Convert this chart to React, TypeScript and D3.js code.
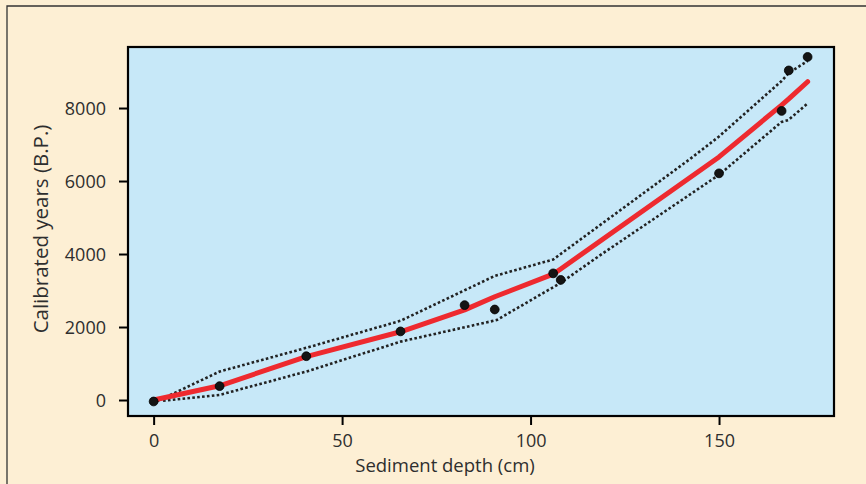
import React, { useRef, useEffect } from 'react';
import * as d3 from 'd3';

// measured dates (depth cm, calibrated years B.P.)
const sampleDepth = [0, 17.5, 40.5, 65.5, 82.5, 90.5, 106, 108, 150, 166.6, 168.5, 173.5];
const sampleYears = [-40, 380, 1200, 1880, 2600, 2480, 3470, 3290, 6210, 7920, 9030, 9400];

// age-depth model (red line)
const modelDepth = [0, 17.5, 40.5, 65.5, 82.5, 90.5, 106, 108, 150, 166.6, 168.5, 173.5];
const modelYears = [0, 390, 1190, 1870, 2470, 2830, 3450, 3590, 6660, 8080, 8250, 8720];

// confidence envelope (dotted lines)
const upperDepth = [0.8, 17.5, 40.5, 65.5, 90.5, 106, 142, 150, 166.6, 168.5, 173.5];
const upperYears = [-40, 780, 1430, 2170, 3400, 3850, 6580, 7220, 8740, 8960, 9290];
const lowerDepth = [2.5, 17.5, 40.5, 65.5, 91, 108, 118.5, 144, 150, 166.6, 168.4, 173.3];
const lowerYears = [-20, 140, 780, 1600, 2190, 3210, 3970, 5750, 6170, 7620, 7670, 8110];

const xTicks = [0, 50, 100, 150];
const yTicks = [0, 2000, 4000, 6000, 8000];

function App() {
  const svgRef = useRef(null);

  useEffect(() => {
    const svg = d3.select(svgRef.current);
    svg.selectAll('*').remove();

    const width = 866;
    const height = 484;
    const box = { left: 128, right: 834, top: 47, bottom: 416 };
    const font = '"Open Sans", "Liberation Sans", Arial, sans-serif';
    const textColor = '#2e2e2e';

    const x = d3.scaleLinear().domain([-6.8, 180.5]).range([box.left, box.right]);
    const y = d3.scaleLinear().domain([-438, 9672]).range([box.bottom, box.top]);

    // page panel
    svg.append('rect')
      .attr('width', width)
      .attr('height', height)
      .attr('fill', '#fdefd4');
    svg.append('path')
      .attr('d', `M7,${height} V6 H${width}`)
      .attr('fill', 'none')
      .attr('stroke', '#333')
      .attr('stroke-width', 1.3);

    // plot area
    svg.append('rect')
      .attr('x', box.left)
      .attr('y', box.top)
      .attr('width', box.right - box.left)
      .attr('height', box.bottom - box.top)
      .attr('fill', '#c7e8f8');

    const line = d3.line().x(d => x(d[0])).y(d => y(d[1]));

    const envelope = [
      d3.zip(upperDepth, upperYears),
      d3.zip(lowerDepth, lowerYears),
    ];
    svg.append('g')
      .selectAll('path')
      .data(envelope)
      .join('path')
      .attr('d', d => line(d))
      .attr('fill', 'none')
      .attr('stroke', '#222')
      .attr('stroke-width', 2.6)
      .attr('stroke-dasharray', '2.6 2.3');

    svg.append('path')
      .attr('d', line(d3.zip(modelDepth, modelYears)))
      .attr('fill', 'none')
      .attr('stroke', '#ee2a2f')
      .attr('stroke-width', 5)
      .attr('stroke-linejoin', 'round')
      .attr('stroke-linecap', 'round');

    svg.append('g')
      .selectAll('circle')
      .data(d3.zip(sampleDepth, sampleYears))
      .join('circle')
      .attr('cx', d => x(d[0]))
      .attr('cy', d => y(d[1]))
      .attr('r', 4.4)
      .attr('fill', '#141414')
      .attr('stroke', '#000')
      .attr('stroke-width', 0.8);

    svg.append('rect')
      .attr('x', box.left)
      .attr('y', box.top)
      .attr('width', box.right - box.left)
      .attr('height', box.bottom - box.top)
      .attr('fill', 'none')
      .attr('stroke', '#000')
      .attr('stroke-width', 2.2);

    // axes
    const xAxis = svg.append('g')
      .attr('transform', `translate(0, ${box.bottom})`)
      .call(d3.axisBottom(x).tickValues(xTicks).tickFormat(d3.format('d')).tickSize(9).tickPadding(9));
    const yAxis = svg.append('g')
      .attr('transform', `translate(${box.left}, 0)`)
      .call(d3.axisLeft(y).tickValues(yTicks).tickFormat(d3.format('d')).tickSize(9).tickPadding(13));

    [xAxis, yAxis].forEach(a => {
      a.select('.domain').remove();
      a.selectAll('line').attr('stroke', '#000').attr('stroke-width', 2);
      a.selectAll('text')
        .attr('fill', textColor)
        .attr('font-family', font)
        .attr('font-size', 18);
    });
    yAxis.selectAll('text').attr('dy', '0.36em');

    svg.append('text')
      .attr('x', 445)
      .attr('y', 472)
      .attr('text-anchor', 'middle')
      .attr('fill', textColor)
      .attr('font-family', font)
      .attr('font-size', 18.5)
      .text('Sediment depth (cm)');

    svg.append('text')
      .attr('transform', 'translate(48, 229) rotate(-90)')
      .attr('text-anchor', 'middle')
      .attr('fill', textColor)
      .attr('font-family', font)
      .attr('font-size', 20.5)
      .text('Calibrated years (B.P.)');
  }, []);

  return (
    <svg
      ref={svgRef}
      width={866}
      height={484}
      style={{ position: 'absolute', left: 0, top: 0, display: 'block' }}
    ></svg>
  );
}

export default App;
